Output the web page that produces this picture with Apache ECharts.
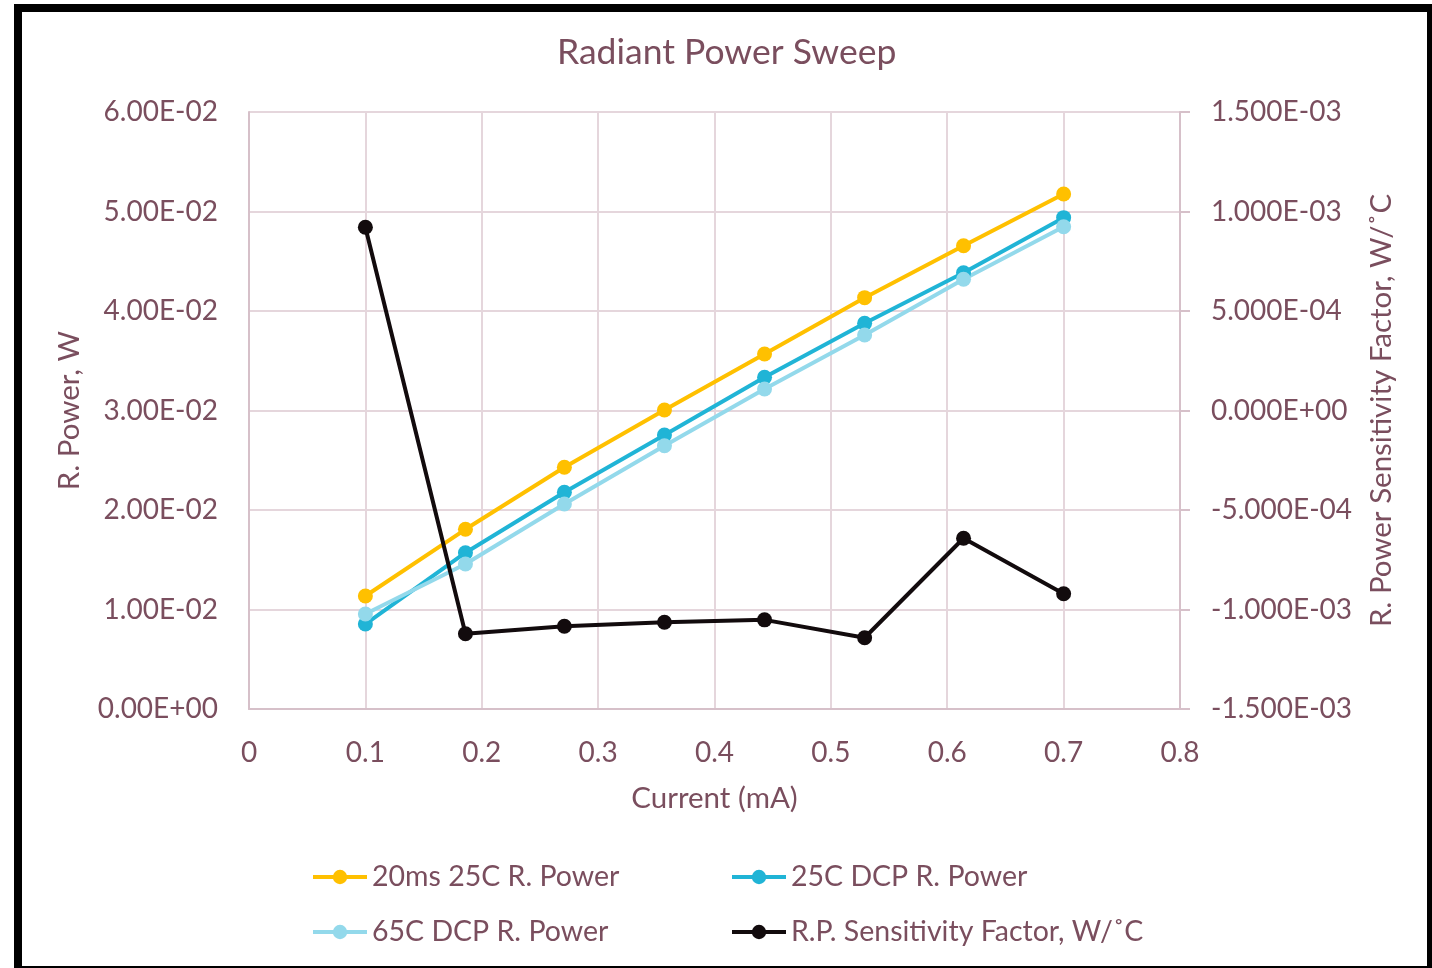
<!DOCTYPE html>
<html>
<head>
<meta charset="utf-8">
<title>Radiant Power Sweep</title>
<script src="https://cdn.jsdelivr.net/npm/echarts@6/dist/echarts.min.js"></script>
<style>
  html, body { margin: 0; padding: 0; background: #ffffff; }
  #chart { width: 1432px; height: 968px; }
</style>
</head>
<body>
<div id="chart"></div>
<script>
// Drive current, mA
const current = [0.1, 0.186, 0.271, 0.357, 0.443, 0.529, 0.614, 0.7];

// Radiant power, W
const power20ms25C = [0.01136, 0.01806, 0.02429, 0.03005, 0.03568, 0.04134, 0.04656, 0.05176];
const power25CDCP  = [0.00854, 0.01571, 0.02178, 0.02754, 0.03334, 0.03876, 0.04385, 0.04938];
const power65CDCP  = [0.00955, 0.01457, 0.02060, 0.02646, 0.03216, 0.03759, 0.04319, 0.04847];

// Radiant power sensitivity factor, W/°C (secondary axis)
const sensitivity = [9.21e-4, -1.122e-3, -1.084e-3, -1.064e-3, -1.052e-3, -1.142e-3, -6.42e-4, -9.21e-4];

const seriesNames = [
  '20ms 25C R. Power',
  '25C DCP R. Power',
  '65C DCP R. Power',
  'R.P. Sensitivity Factor, W/˚C'
];

const TEXT = '#7a4e5e';
const GRID = '#e5d6dc';
const AXIS = '#d6c0c9';
const FONT = 'Lato, "Open Sans", sans-serif';

// Excel-style scientific notation, e.g. 6.00E-02
function sci(v, digits) {
  if (Math.abs(v) < 1e-12) v = 0;
  const s = v.toExponential(digits);
  const [mant, exp] = s.split('e');
  const e = parseInt(exp, 10);
  const sign = e < 0 ? '-' : '+';
  const ae = Math.abs(e);
  return mant + 'E' + sign + (ae < 10 ? '0' + ae : String(ae));
}

function pairs(ys) {
  return current.map((x, i) => [x, ys[i]]);
}

const chart = echarts.init(document.getElementById('chart'));

function lineSeries(name, data, color, axisIndex) {
  return {
    name: name,
    type: 'line',
    yAxisIndex: axisIndex,
    data: pairs(data),
    symbol: 'circle',
    symbolSize: 15,
    showAllSymbol: true,
    lineStyle: { color: color, width: 4 },
    itemStyle: { color: color },
    emphasis: { disabled: true },
    animation: false
  };
}

const labelStyle = { color: TEXT, fontFamily: FONT, fontSize: 28 };
const nameStyle = { color: TEXT, fontFamily: FONT, fontSize: 29.5 };
const legendText = { color: TEXT, fontFamily: FONT, fontSize: 28.5, lineHeight: 32 };

function legendColumn(names, left) {
  return {
    data: names,
    orient: 'vertical',
    left: left,
    top: 856,
    itemWidth: 54,
    itemHeight: 18,
    itemGap: 23,
    lineStyle: { width: 4 },
    textStyle: legendText
  };
}

chart.setOption({
  backgroundColor: '#ffffff',
  animation: false,
  title: {
    text: 'Radiant Power Sweep',
    left: 552,
    top: 30,
    textStyle: { color: TEXT, fontFamily: FONT, fontSize: 35.5, fontWeight: 'normal' }
  },
  grid: { left: 249, right: 252, top: 112, bottom: 259, containLabel: false },
  legend: [
    legendColumn([seriesNames[0], seriesNames[2]], 306),
    legendColumn([seriesNames[1], seriesNames[3]], 725)
  ],
  xAxis: {
    type: 'value',
    min: 0,
    max: 0.8,
    interval: 0.1,
    name: 'Current (mA)',
    nameLocation: 'middle',
    nameGap: 74,
    nameTextStyle: nameStyle,
    axisLine: { show: true, lineStyle: { color: AXIS, width: 2 } },
    axisTick: { show: false },
    axisLabel: Object.assign({ margin: 30, formatter: v => (Math.abs(v) < 1e-9 ? '0' : (+v.toFixed(1)).toString()) }, labelStyle),
    splitLine: { show: true, lineStyle: { color: GRID, width: 2 } }
  },
  yAxis: [
    {
      type: 'value',
      position: 'left',
      min: 0,
      max: 0.06,
      interval: 0.01,
      name: 'R. Power, W',
      nameLocation: 'middle',
      nameGap: 165,
      nameTextStyle: nameStyle,
      axisLine: { show: true, lineStyle: { color: AXIS, width: 2 } },
      axisTick: { show: false },
      axisLabel: Object.assign({ margin: 31, formatter: v => sci(v, 2) }, labelStyle),
      splitLine: { show: true, lineStyle: { color: GRID, width: 2 } }
    },
    {
      type: 'value',
      position: 'right',
      min: -0.0015,
      max: 0.0015,
      interval: 0.0005,
      name: 'R. Power Sensitivity Factor, W/˚C',
      nameLocation: 'middle',
      nameGap: 186,
      nameRotate: 90,
      nameTextStyle: nameStyle,
      axisLine: { show: true, lineStyle: { color: AXIS, width: 2 } },
      axisTick: { show: true, inside: false, length: 10, lineStyle: { color: AXIS, width: 2 } },
      axisLabel: Object.assign({ margin: 31, formatter: v => sci(v, 3) }, labelStyle),
      splitLine: { show: false }
    }
  ],
  graphic: [
    {
      type: 'rect',
      silent: true,
      z: 100,
      shape: { x: 18, y: 8, width: 1413, height: 962 },
      style: { fill: 'none', stroke: '#000000', lineWidth: 8 }
    }
  ],
  series: [
    lineSeries(seriesNames[0], power20ms25C, '#ffc000', 0),
    lineSeries(seriesNames[1], power25CDCP, '#20b4d6', 0),
    lineSeries(seriesNames[2], power65CDCP, '#93d9eb', 0),
    lineSeries(seriesNames[3], sensitivity, '#120b0d', 1)
  ]
});
</script>
</body>
</html>
